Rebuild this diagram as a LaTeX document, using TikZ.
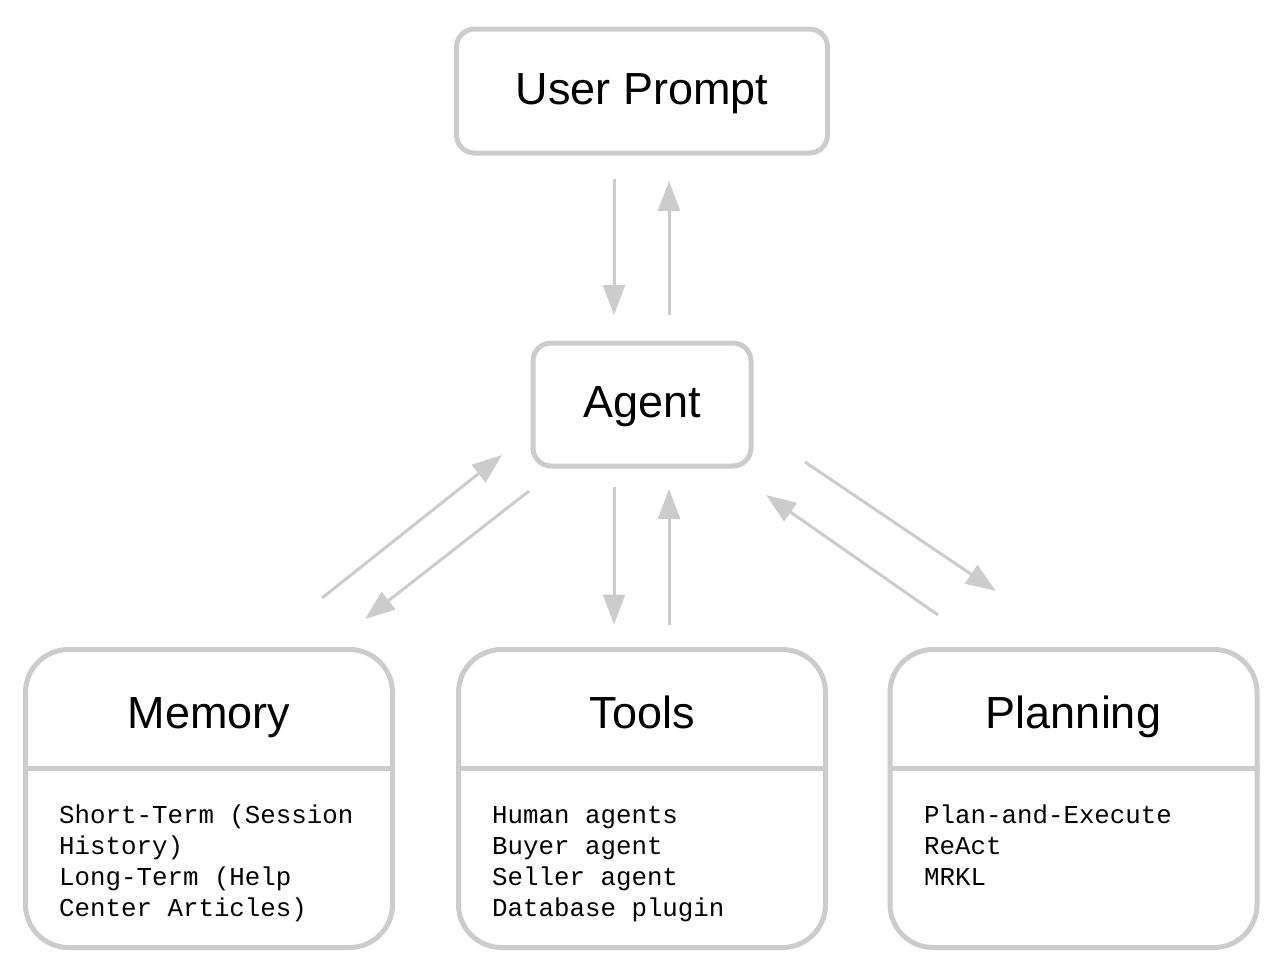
\documentclass[tikz,border=0pt]{standalone}
\usepackage{fontspec}
\setmainfont{Liberation Sans}
\setmonofont{Liberation Mono}
\usetikzlibrary{arrows.meta}
\definecolor{edge}{HTML}{CCCCCC}
\begin{document}
\begin{tikzpicture}[x=1pt,y=-1pt,
  box/.style={draw=edge, line width=5pt, rounded corners=18pt, fill=white, inner sep=0pt,
    font=\fontsize{45}{54}\selectfont, text height=35pt, text depth=9pt},
  card/.style={draw=edge, line width=5pt, fill=white, inner sep=0pt, rounded corners=43pt,
    minimum width=367pt, minimum height=298pt},
  title/.style={font=\fontsize{45}{54}\selectfont, anchor=base, inner sep=0pt},
  body/.style={font=\ttfamily\fontsize{25.8}{31}\selectfont, anchor=base west, inner sep=0pt},
  divider/.style={draw=edge, line width=5pt},
  link/.style={draw=edge, line width=3pt, -{Triangle[length=30pt,width=22pt]}}]
\useasboundingbox (0,0) rectangle (1282,970);

\node[box, minimum width=371pt, minimum height=124pt] (user) at (642,91) {User Prompt};
\node[box, minimum width=218pt, minimum height=123pt] (agent) at (642,404.5) {Agent};

\node[card] (mem) at (209,798.5) {};
\node[card] (tools) at (642,798.5) {};
\node[card] (plan) at (1073.5,798.5) {};

\coordinate (div) at (0,768);
\draw[divider] (mem.west |- div) -- (mem.east |- div);
\draw[divider] (tools.west |- div) -- (tools.east |- div);
\draw[divider] (plan.west |- div) -- (plan.east |- div);

\node[title] (memT) at (209,728) {Memory};
\node[title] (toolsT) at (642,728) {Tools};
\node[title] (planT) at (1073.5,728) {Planning};

\node[body] (memB) at (59,823) {\begin{tabular}[t]{@{}l@{}}Short-Term (Session\\History)\\Long-Term (Help\\Center Articles)\end{tabular}};
\node[body] (toolsB) at (492,823) {\begin{tabular}[t]{@{}l@{}}Human agents\\Buyer agent\\Seller agent\\Database plugin\end{tabular}};
\node[body] (planB) at (924,823) {\begin{tabular}[t]{@{}l@{}}Plan-and-Execute\\ReAct\\MRKL\end{tabular}};

% user <-> agent
\draw[link, shorten <=23.5pt, shorten >=25.5pt] ([xshift=-28pt]user.south) -- ([xshift=-28pt]agent.north);
\draw[link, shorten <=25.5pt, shorten >=25.5pt] ([xshift=27pt]agent.north) -- ([xshift=27pt]user.south);
% agent <-> tools
\draw[link, shorten <=18.5pt, shorten >=22.5pt] ([xshift=-28pt]agent.south) -- ([xshift=-28pt]tools.north);
\draw[link, shorten <=22.5pt, shorten >=20.5pt] ([xshift=27pt]tools.north) -- ([xshift=27pt]agent.south);
% memory <-> agent
\coordinate (m1) at (322,598); \coordinate (m2) at (502,455);
\coordinate (m3) at (529,491); \coordinate (m4) at (365,619);
\draw[link] (m1) -- (m2);
\draw[link] (m3) -- (m4);
% agent <-> planning
\coordinate (p1) at (805,462); \coordinate (p2) at (996,591);
\coordinate (p3) at (938,615); \coordinate (p4) at (766,495);
\draw[link] (p1) -- (p2);
\draw[link] (p3) -- (p4);
\end{tikzpicture}
\end{document}
